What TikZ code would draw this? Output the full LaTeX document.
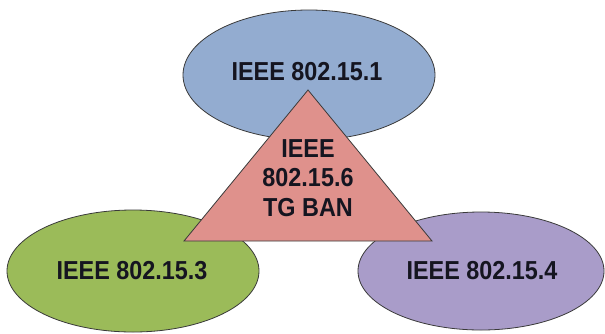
\documentclass[tikz,border=0pt]{standalone}
\usepackage{fontspec}
\setmainfont{Liberation Sans}[FakeStretch=0.9]
\usetikzlibrary{shapes.geometric}
\definecolor{bubbleblue}{HTML}{93ACD0}
\definecolor{bubblegreen}{HTML}{9BBB59}
\definecolor{bubblepurple}{HTML}{A99CC9}
\definecolor{banpink}{HTML}{DF918C}
\definecolor{edgegray}{HTML}{3A3A3A}
\definecolor{labelink}{HTML}{151520}
\tikzset{
  std/.style={draw=edgegray, line width=0.8pt},
  lbl/.style={font=\fontsize{26}{29.5}\selectfont\bfseries, text=labelink, align=center, inner sep=0pt},
}
\begin{document}
\begin{tikzpicture}[x=1pt, y=-1pt]
  \useasboundingbox (0,0) rectangle (605,333);
  \fill[white] (0,0) rectangle (605,333);
  % three standard ellipses
  \draw[std, fill=bubbleblue]   (309,75)  ellipse [x radius=126, y radius=65];
  \draw[std, fill=bubblegreen]  (133,271) ellipse [x radius=126, y radius=61];
  \draw[std, fill=bubblepurple] (481,271) ellipse [x radius=123, y radius=59];
  % central triangle
  \coordinate (apex) at (308,90);
  \coordinate (bl) at (184,241);
  \coordinate (br) at (432,241);
  \draw[std, fill=banpink, line join=miter] (apex) -- (bl) -- (br) -- cycle;
  % labels
  \node[lbl] (t1) at (307,72)  {IEEE 802.15.1};
  \node[lbl] (t3) at (132,271) {IEEE 802.15.3};
  \node[lbl] (t4) at (482,271) {IEEE 802.15.4};
  \node[lbl] (t6) at (308,178) {IEEE\\802.15.6\\TG BAN};
\end{tikzpicture}
\end{document}
